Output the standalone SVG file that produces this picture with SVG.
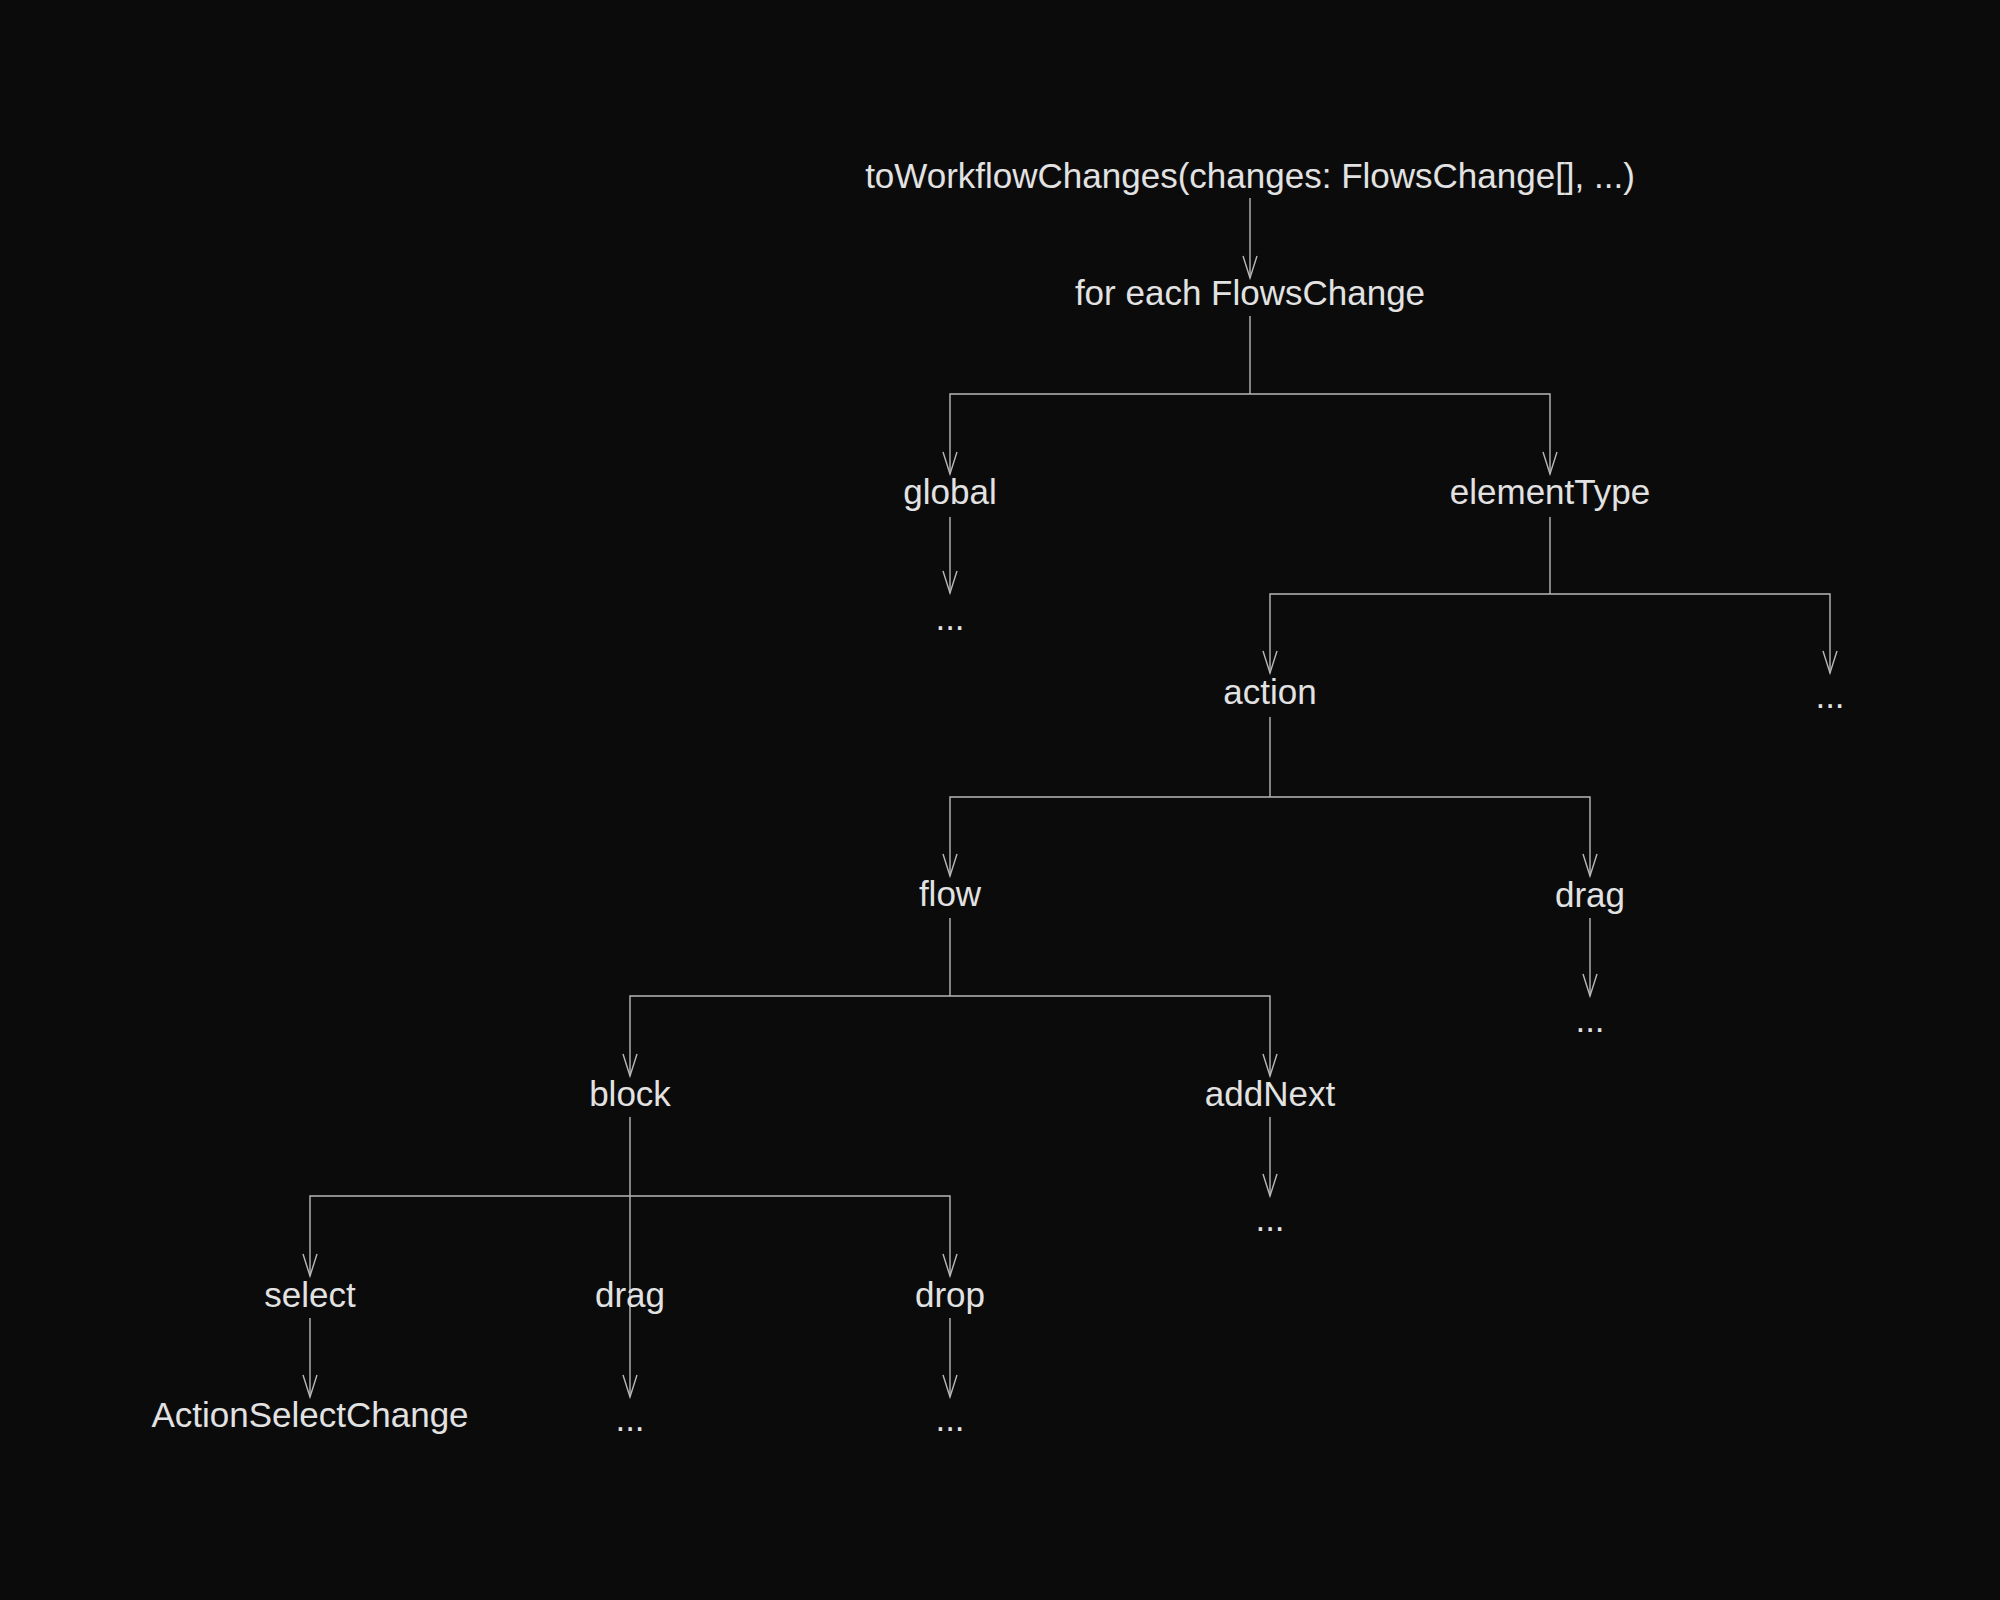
<svg xmlns="http://www.w3.org/2000/svg" width="2000" height="1600" viewBox="0 0 2000 1600">
<style>
text{font-family:"Liberation Sans","DejaVu Sans",sans-serif;font-size:35px;fill:#e2e2e2;text-anchor:middle;dominant-baseline:middle}
.c path{fill:none;stroke:#b8b8b8;stroke-width:1.4}
</style>
<defs><marker id="a" markerWidth="26" markerHeight="16" refX="24" refY="8" orient="auto-start-reverse" markerUnits="userSpaceOnUse" viewBox="0 0 26 16"><path d="M2,1 L24,8 L2,15" fill="none" stroke="#b8b8b8" stroke-width="1.4"/></marker></defs>
<rect width="2000" height="1600" fill="#0b0b0b"/>
<g class="c" id="connectors">
<path d="M1250,198 V278" marker-end="url(#a)"/>
<path d="M1250,316 V394"/>
<path d="M950,474 V394 H1550 V474" marker-start="url(#a)" marker-end="url(#a)"/>
<path d="M950,517 V593" marker-end="url(#a)"/>
<path d="M1550,517 V594"/>
<path d="M1270,673 V594 H1830 V673" marker-start="url(#a)" marker-end="url(#a)"/>
<path d="M1270,717 V797"/>
<path d="M950,876 V797 H1590 V876" marker-start="url(#a)" marker-end="url(#a)"/>
<path d="M1590,918 V996" marker-end="url(#a)"/>
<path d="M950,918 V996"/>
<path d="M630,1076 V996 H1270 V1076" marker-start="url(#a)" marker-end="url(#a)"/>
<path d="M1270,1117 V1196" marker-end="url(#a)"/>
<path d="M630,1117 V1397" marker-end="url(#a)"/>
<path d="M310,1276 V1196 H950 V1276" marker-start="url(#a)" marker-end="url(#a)"/>
<path d="M310,1318 V1397" marker-end="url(#a)"/>
<path d="M950,1318 V1397" marker-end="url(#a)"/>
</g>
<g id="n1"><text x="1250" y="179">toWorkflowChanges(changes: FlowsChange[], ...)</text></g>
<g id="n2"><text x="1250" y="296">for each FlowsChange</text></g>
<g id="n3"><text x="950" y="495">global</text></g>
<g id="n4"><text x="1550" y="495">elementType</text></g>
<g id="n5"><text x="950" y="621">...</text></g>
<g id="n6"><text x="1270" y="695">action</text></g>
<g id="n7"><text x="1830" y="699">...</text></g>
<g id="n8"><text x="950" y="897">flow</text></g>
<g id="n9"><text x="1590" y="898">drag</text></g>
<g id="n10"><text x="1590" y="1023">...</text></g>
<g id="n11"><text x="630" y="1097">block</text></g>
<g id="n12"><text x="1270" y="1097">addNext</text></g>
<g id="n13"><text x="1270" y="1222">...</text></g>
<g id="n14"><text x="310" y="1298">select</text></g>
<g id="n15"><text x="630" y="1298">drag</text></g>
<g id="n16"><text x="950" y="1298">drop</text></g>
<g id="n17"><text x="310" y="1418">ActionSelectChange</text></g>
<g id="n18"><text x="630" y="1422">...</text></g>
<g id="n19"><text x="950" y="1422">...</text></g>
</svg>
